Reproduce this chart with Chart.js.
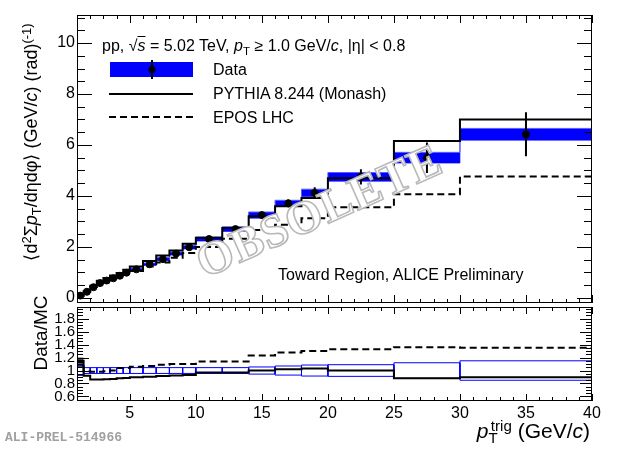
<!DOCTYPE html>
<html>
<head>
<meta charset="utf-8">
<script src="https://cdn.jsdelivr.net/npm/chart.js@4.4.1/dist/chart.umd.min.js"></script>
<style>
  body { margin: 0; background: #fff; }
  #wrap { position: relative; width: 620px; height: 449px; overflow: hidden;
          font-family: 'Liberation Sans', Arial, sans-serif; color: #000; }
  #wrap canvas { position: absolute; left: 0; }
  .txt { position: absolute; white-space: nowrap; line-height: 1.2; }
  .sb { position: relative; top: 0.32em; font-size: 0.72em; }
  .sp { position: relative; top: -0.45em; font-size: 0.72em; }
  .rot { transform: rotate(-90deg); transform-origin: left top; text-align: center; }
  .obs { position: absolute; left: 160px; top: 183px; width: 320px; height: 60px; line-height: 60px;
         text-align: center; font: bold 47px 'Liberation Serif', serif; letter-spacing: 1px; color: #fff;
         -webkit-text-stroke: 1.6px #b8b8b8; transform: rotate(-24deg); }
</style>
</head>
<body>
<div id="wrap">
  <canvas id="topChart" width="620" height="320" style="top:0"></canvas>
  <canvas id="ratioChart" width="620" height="159" style="top:290px"></canvas>

  <div class="txt" style="left:102px; top:36px; font-size:16px;">pp, √<span style="text-decoration:overline"><i>s</i></span> = 5.02 TeV, <i>p</i><span class="sb">T</span> ≥ 1.0 GeV/<i>c</i>, |η| &lt; 0.8</div>
  <div class="txt" style="left:213px; top:60px; font-size:16px;">Data</div>
  <div class="txt" style="left:213px; top:84px; font-size:16px;">PYTHIA 8.244 (Monash)</div>
  <div class="txt" style="left:213px; top:108px; font-size:16px;">EPOS LHC</div>
  <div class="txt" style="left:278px; top:265px; font-size:16px;">Toward Region, ALICE Preliminary</div>

  <div class="txt rot" style="left:21px; top:292px; width:300px; font-size:18px;">⟨d<span class="sp">2</span>Σ<i>p</i><span class="sb">T</span>/dηdφ⟩ (GeV/<i>c</i>) (rad)<span class="sp">(-1)</span></div>
  <div class="txt rot" style="left:30px; top:393px; width:120px; font-size:19px;">Data/MC</div>

  <div class="txt" style="right:30px; top:418px; font-size:21px;"><i>p</i><span class="sb">T</span><span class="sp" style="margin-left:-0.45em">trig</span> (GeV/<i>c</i>)</div>
  <div class="txt" style="left:5px; top:430px; font: bold 13px 'Liberation Mono', monospace; color:#a0a0a0;">ALI-PREL-514966</div>

  <div class="obs">OBSOLETE</div>
</div>

<script>
// bin edges of p_T^trig (GeV/c)
const binEdges = [1, 1.5, 2, 2.5, 3, 3.5, 4, 4.5, 5, 6, 7, 8, 9, 10, 12, 14, 16, 18, 20, 25, 30, 40];

// top panel
const dataVal = [0.09, 0.24, 0.42, 0.58, 0.68, 0.77, 0.87, 0.99, 1.12, 1.32, 1.52, 1.74, 1.99, 2.31, 2.70, 3.25, 3.71, 4.12, 4.75, 5.50, 6.42];
const dataStat = [0.01, 0.01, 0.01, 0.01, 0.01, 0.01, 0.01, 0.02, 0.02, 0.02, 0.03, 0.03, 0.04, 0.05, 0.06, 0.10, 0.15, 0.22, 0.30, 0.60, 0.86];
const dataSys = [0.02, 0.02, 0.03, 0.03, 0.03, 0.03, 0.04, 0.04, 0.05, 0.05, 0.06, 0.06, 0.07, 0.08, 0.09, 0.12, 0.12, 0.145, 0.17, 0.21, 0.23];
const pythiaVal = [0.08, 0.26, 0.48, 0.67, 0.78, 0.875, 0.98, 1.10, 1.23, 1.45, 1.66, 1.86, 2.12, 2.36, 2.74, 3.20, 3.60, 3.92, 4.69, 6.16, 7.00];
const eposVal = [0.08, 0.24, 0.43, 0.59, 0.69, 0.77, 0.84, 0.95, 1.06, 1.23, 1.39, 1.58, 1.76, 2.00, 2.32, 2.66, 2.87, 3.13, 3.56, 4.07, 4.76];

// ratio panel
const ratioPythia = [1.13, 0.92, 0.86, 0.86, 0.865, 0.87, 0.88, 0.885, 0.895, 0.905, 0.915, 0.925, 0.93, 0.97, 0.97, 1.00, 1.02, 1.03, 1.00, 0.88, 0.895];
const ratioEpos = [1.15, 0.99, 0.98, 0.98, 0.99, 1.00, 1.04, 1.04, 1.06, 1.07, 1.09, 1.10, 1.10, 1.14, 1.14, 1.23, 1.28, 1.30, 1.33, 1.36, 1.35];
const ratioErr = [0.075, 0.045, 0.045, 0.045, 0.045, 0.045, 0.045, 0.045, 0.045, 0.045, 0.045, 0.045, 0.045, 0.045, 0.045, 0.055, 0.07, 0.085, 0.09, 0.12, 0.15];
// dark grey band in the first bin (1-1.5 GeV/c)
const firstBinBand = [1.05, 1.2];

// tick labels
const yTopTicks = [0, 2, 4, 6, 8, 10];
const xRatioTicks = [5, 10, 15, 20, 25, 30, 35, 40];
const yRatioTicks = [0.6, 0.8, 1, 1.2, 1.4, 1.6, 1.8];

Chart.defaults.font.family = "'Liberation Sans', Arial, sans-serif";
Chart.defaults.color = '#000';

const lastEdge = binEdges[binEdges.length - 1];
const centers = dataVal.map((v, i) => (binEdges[i] + binEdges[i + 1]) / 2);

// histogram as stepped line: one point per low edge plus the last edge
function stepPoints(vals) {
  const pts = vals.map((v, i) => ({ x: binEdges[i], y: v }));
  pts.push({ x: binEdges[vals.length], y: vals[vals.length - 1] });
  return pts;
}

// vertical error bars, split by null points
const statBars = [];
centers.forEach((c, i) => {
  statBars.push({ x: c, y: dataVal[i] - dataStat[i] }, { x: c, y: dataVal[i] + dataStat[i] }, { x: c, y: null });
});

// outlined boxes around 1 in the ratio panel
const ratioBoxes = [];
ratioErr.forEach((h, i) => {
  const a = binEdges[i], b = binEdges[i + 1];
  ratioBoxes.push({ x: a, y: 1 - h }, { x: a, y: 1 + h }, { x: b, y: 1 + h }, { x: b, y: 1 - h }, { x: a, y: 1 - h }, { x: a, y: null });
});

// ROOT style frame with ticks pointing inwards on all sides
const rootFrame = {
  id: 'rootFrame',
  afterDatasetsDraw(chart, args, opts) {
    const { ctx, chartArea: a, scales } = chart;
    ctx.save();
    ctx.strokeStyle = '#000';
    ctx.lineWidth = 1;
    ctx.strokeRect(Math.round(a.left) + 0.5, Math.round(a.top) + 0.5, Math.round(a.right - a.left) - 1, Math.round(a.bottom - a.top) - 1);
    ctx.beginPath();
    ['x', 'y'].forEach(k => {
      const s = scales[k], o = opts[k];
      const start = Math.ceil(s.min / o.minor - 1e-6);
      for (let n = start; n * o.minor <= s.max + 1e-9; n++) {
        const v = n * o.minor;
        const q = v / o.major;
        const len = Math.abs(q - Math.round(q)) < 1e-6 ? o.len[0] : o.len[1];
        const p = Math.round(s.getPixelForValue(v)) + 0.5;
        if (k === 'x') {
          ctx.moveTo(p, a.bottom); ctx.lineTo(p, a.bottom - len);
          ctx.moveTo(p, a.top); ctx.lineTo(p, a.top + len);
        } else {
          ctx.moveTo(a.left, p); ctx.lineTo(a.left + len, p);
          ctx.moveTo(a.right, p); ctx.lineTo(a.right - len, p);
        }
      }
    });
    ctx.stroke();
    ctx.restore();
  }
};

// legend symbols
const legendBox = {
  id: 'legendBox',
  afterDraw(chart) {
    const ctx = chart.ctx;
    ctx.save();
    ctx.fillStyle = '#0000ff';
    ctx.fillRect(110, 62, 83, 15);
    ctx.strokeStyle = '#000';
    ctx.lineWidth = 2;
    ctx.beginPath();
    ctx.moveTo(152, 60); ctx.lineTo(152, 79);
    ctx.moveTo(109, 94); ctx.lineTo(193, 94);
    ctx.stroke();
    ctx.beginPath();
    ctx.arc(152, 69.5, 3.5, 0, Math.PI * 2);
    ctx.fillStyle = '#000';
    ctx.fill();
    ctx.setLineDash([7, 4]);
    ctx.beginPath();
    ctx.moveTo(109, 117); ctx.lineTo(193, 117);
    ctx.stroke();
    ctx.restore();
  }
};

// 'before' keeps each bin's value flat until the next edge
const stepLine = (data, extra) => Object.assign({
  data, stepped: 'before', borderColor: '#000', borderWidth: 2, pointRadius: 0, fill: false
}, extra);

new Chart(document.getElementById('topChart'), {
  type: 'line',
  data: {
    datasets: [
      stepLine(stepPoints(dataVal.map((v, i) => v - dataSys[i])), { borderColor: '#5c5cff', borderWidth: 1, order: 6 }),
      stepLine(stepPoints(dataVal.map((v, i) => v + dataSys[i])), { borderColor: '#5c5cff', borderWidth: 1, fill: '-1', backgroundColor: '#0000ff', order: 5 }),
      stepLine(stepPoints(eposVal), { borderDash: [7, 4], order: 4 }),
      stepLine(stepPoints(pythiaVal), { order: 3 }),
      { data: statBars, borderColor: '#000', borderWidth: 2, pointRadius: 0, spanGaps: false, order: 2 },
      { data: centers.map((c, i) => ({ x: c, y: dataVal[i] })), showLine: false, pointRadius: 3.5,
        pointBackgroundColor: '#000', pointBorderColor: '#000', order: 1 }
    ]
  },
  options: {
    animation: false, responsive: false, events: [],
    layout: { padding: { left: 0, right: 28, top: 15, bottom: 17 } },
    scales: {
      x: { type: 'linear', min: binEdges[0], max: lastEdge, display: false },
      y: {
        type: 'linear', min: -0.2, max: 11.1,
        afterBuildTicks: s => { s.ticks = yTopTicks.map(v => ({ value: v })); },
        afterFit: s => { s.width = 77; },
        grid: { display: false, drawTicks: false }, border: { display: false },
        ticks: { font: { size: 16 }, padding: 2, color: '#000', autoSkip: false }
      }
    },
    plugins: {
      legend: { display: false }, tooltip: { enabled: false },
      rootFrame: { x: { major: 5, minor: 1, len: [8, 4] }, y: { major: 2, minor: 0.5, len: [15, 8] } }
    }
  },
  plugins: [rootFrame, legendBox]
});

new Chart(document.getElementById('ratioChart'), {
  type: 'line',
  data: {
    datasets: [
      stepLine(stepPoints([firstBinBand[0]]), { borderWidth: 0, order: 5 }),
      stepLine(stepPoints([firstBinBand[1]]), { borderWidth: 0, fill: '-1', backgroundColor: '#555555', order: 4 }),
      { data: ratioBoxes, borderColor: '#0000ff', borderWidth: 1, pointRadius: 0, spanGaps: false, order: 3 },
      stepLine(stepPoints(ratioEpos), { borderDash: [7, 4], order: 2 }),
      stepLine(stepPoints(ratioPythia), { order: 1 })
    ]
  },
  options: {
    animation: false, responsive: false, events: [],
    layout: { padding: { left: 0, right: 28, top: 17, bottom: 0 } },
    scales: {
      x: {
        type: 'linear', min: binEdges[0], max: lastEdge,
        afterBuildTicks: s => { s.ticks = xRatioTicks.map(v => ({ value: v })); },
        afterFit: s => { s.height = 48; },
        grid: { display: false, drawTicks: false }, border: { display: false },
        ticks: { font: { size: 16 }, padding: 3, color: '#000', maxRotation: 0, autoSkip: false }
      },
      y: {
        type: 'linear', min: 0.53, max: 1.98,
        afterBuildTicks: s => { s.ticks = yRatioTicks.map(v => ({ value: v })); },
        afterFit: s => { s.width = 77; },
        grid: { display: false, drawTicks: false }, border: { display: false },
        ticks: { font: { size: 15 }, padding: 2, color: '#000', autoSkip: false, callback: v => String(+v.toFixed(2)) }
      }
    },
    plugins: {
      legend: { display: false }, tooltip: { enabled: false },
      rootFrame: { x: { major: 5, minor: 1, len: [7, 4] }, y: { major: 0.2, minor: 0.05, len: [12, 6] } }
    }
  },
  plugins: [rootFrame]
});
</script>
</body>
</html>
